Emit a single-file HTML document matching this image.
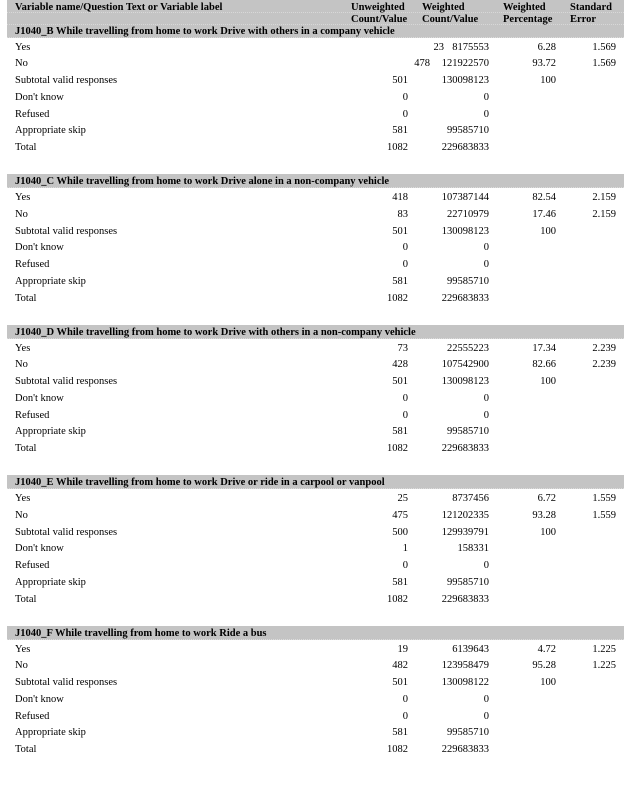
<!DOCTYPE html>
<html><head><meta charset="utf-8"><style>
html,body{margin:0;padding:0;background:#fff;}
body{width:629px;height:795px;position:relative;overflow:hidden;font-family:"Liberation Serif",serif;font-size:10.5px;color:#000;}
.sec{position:absolute;left:0;width:629px;height:150px;}
.band{position:absolute;left:7px;width:617px;background:#c4c4c4;border-bottom:1px dotted #dcdcdc;}
.r{position:absolute;left:0;width:629px;height:12px;line-height:12px;white-space:nowrap;margin-top:1.5px;}
.r span{position:absolute;}
.l{left:15px;}
.u{right:221px;}
.w{right:140px;}
.p{right:73px;}
.e{right:13px;}
.b{font-weight:bold;}
.dl{position:absolute;left:7px;width:617px;height:0;border-top:1px dotted #d8d8d8;}
</style></head><body>

<div class="sec" style="top:0">
  <div class="band" style="top:0;height:37px;"></div>
  <div class="dl" style="top:12px"></div>
  <div class="dl" style="top:24px"></div>
  <div class="r b" style="top:0"><span style="left:15px">Variable name/Question Text or Variable label</span><span style="left:351px">Unweighted</span><span style="left:422px">Weighted</span><span style="left:503px">Weighted</span><span style="left:570px">Standard</span></div>
  <div class="r b" style="top:12px"><span style="left:351px">Count/Value</span><span style="left:422px">Count/Value</span><span style="left:503px">Percentage</span><span style="left:570px">Error</span></div>
  <div class="r b" style="top:24px"><span class="l">J1040_B While travelling from home to work Drive with others in a company vehicle</span></div>
  <div class="r" style="top:40px"><span class="l">Yes</span><span style="right:185px">23</span><span class="w">8175553</span><span class="p">6.28</span><span class="e">1.569</span></div>
  <div class="r" style="top:56.75px"><span class="l">No</span><span style="right:199px">478</span><span class="w">121922570</span><span class="p">93.72</span><span class="e">1.569</span></div>
  <div class="r" style="top:73.5px"><span class="l">Subtotal valid responses</span><span class="u">501</span><span class="w">130098123</span><span class="p">100</span></div>
  <div class="r" style="top:90.25px"><span class="l">Don't know</span><span class="u">0</span><span class="w">0</span></div>
  <div class="r" style="top:107px"><span class="l">Refused</span><span class="u">0</span><span class="w">0</span></div>
  <div class="r" style="top:123.75px"><span class="l">Appropriate skip</span><span class="u">581</span><span class="w">99585710</span></div>
  <div class="r" style="top:140.5px"><span class="l">Total</span><span class="u">1082</span><span class="w">229683833</span></div>
</div>

<div class="sec" style="top:150.5px">
  <div class="band" style="top:23.5px;height:13px;"></div>
  <div class="r b" style="top:24px"><span class="l">J1040_C While travelling from home to work Drive alone in a non-company vehicle</span></div>
  <div class="r" style="top:40px"><span class="l">Yes</span><span class="u">418</span><span class="w">107387144</span><span class="p">82.54</span><span class="e">2.159</span></div>
  <div class="r" style="top:56.75px"><span class="l">No</span><span class="u">83</span><span class="w">22710979</span><span class="p">17.46</span><span class="e">2.159</span></div>
  <div class="r" style="top:73.5px"><span class="l">Subtotal valid responses</span><span class="u">501</span><span class="w">130098123</span><span class="p">100</span></div>
  <div class="r" style="top:90.25px"><span class="l">Don't know</span><span class="u">0</span><span class="w">0</span></div>
  <div class="r" style="top:107px"><span class="l">Refused</span><span class="u">0</span><span class="w">0</span></div>
  <div class="r" style="top:123.75px"><span class="l">Appropriate skip</span><span class="u">581</span><span class="w">99585710</span></div>
  <div class="r" style="top:140.5px"><span class="l">Total</span><span class="u">1082</span><span class="w">229683833</span></div>
</div>

<div class="sec" style="top:301px">
  <div class="band" style="top:23.5px;height:13px;"></div>
  <div class="r b" style="top:24px"><span class="l">J1040_D While travelling from home to work Drive with others in a non-company vehicle</span></div>
  <div class="r" style="top:40px"><span class="l">Yes</span><span class="u">73</span><span class="w">22555223</span><span class="p">17.34</span><span class="e">2.239</span></div>
  <div class="r" style="top:56.75px"><span class="l">No</span><span class="u">428</span><span class="w">107542900</span><span class="p">82.66</span><span class="e">2.239</span></div>
  <div class="r" style="top:73.5px"><span class="l">Subtotal valid responses</span><span class="u">501</span><span class="w">130098123</span><span class="p">100</span></div>
  <div class="r" style="top:90.25px"><span class="l">Don't know</span><span class="u">0</span><span class="w">0</span></div>
  <div class="r" style="top:107px"><span class="l">Refused</span><span class="u">0</span><span class="w">0</span></div>
  <div class="r" style="top:123.75px"><span class="l">Appropriate skip</span><span class="u">581</span><span class="w">99585710</span></div>
  <div class="r" style="top:140.5px"><span class="l">Total</span><span class="u">1082</span><span class="w">229683833</span></div>
</div>

<div class="sec" style="top:451.5px">
  <div class="band" style="top:23.5px;height:13px;"></div>
  <div class="r b" style="top:24px"><span class="l">J1040_E While travelling from home to work Drive or ride in a carpool or vanpool</span></div>
  <div class="r" style="top:40px"><span class="l">Yes</span><span class="u">25</span><span class="w">8737456</span><span class="p">6.72</span><span class="e">1.559</span></div>
  <div class="r" style="top:56.75px"><span class="l">No</span><span class="u">475</span><span class="w">121202335</span><span class="p">93.28</span><span class="e">1.559</span></div>
  <div class="r" style="top:73.5px"><span class="l">Subtotal valid responses</span><span class="u">500</span><span class="w">129939791</span><span class="p">100</span></div>
  <div class="r" style="top:90.25px"><span class="l">Don't know</span><span class="u">1</span><span class="w">158331</span></div>
  <div class="r" style="top:107px"><span class="l">Refused</span><span class="u">0</span><span class="w">0</span></div>
  <div class="r" style="top:123.75px"><span class="l">Appropriate skip</span><span class="u">581</span><span class="w">99585710</span></div>
  <div class="r" style="top:140.5px"><span class="l">Total</span><span class="u">1082</span><span class="w">229683833</span></div>
</div>

<div class="sec" style="top:602px">
  <div class="band" style="top:23.5px;height:13px;"></div>
  <div class="r b" style="top:24px"><span class="l">J1040_F While travelling from home to work Ride a bus</span></div>
  <div class="r" style="top:40px"><span class="l">Yes</span><span class="u">19</span><span class="w">6139643</span><span class="p">4.72</span><span class="e">1.225</span></div>
  <div class="r" style="top:56.75px"><span class="l">No</span><span class="u">482</span><span class="w">123958479</span><span class="p">95.28</span><span class="e">1.225</span></div>
  <div class="r" style="top:73.5px"><span class="l">Subtotal valid responses</span><span class="u">501</span><span class="w">130098122</span><span class="p">100</span></div>
  <div class="r" style="top:90.25px"><span class="l">Don't know</span><span class="u">0</span><span class="w">0</span></div>
  <div class="r" style="top:107px"><span class="l">Refused</span><span class="u">0</span><span class="w">0</span></div>
  <div class="r" style="top:123.75px"><span class="l">Appropriate skip</span><span class="u">581</span><span class="w">99585710</span></div>
  <div class="r" style="top:140.5px"><span class="l">Total</span><span class="u">1082</span><span class="w">229683833</span></div>
</div>

</body></html>
